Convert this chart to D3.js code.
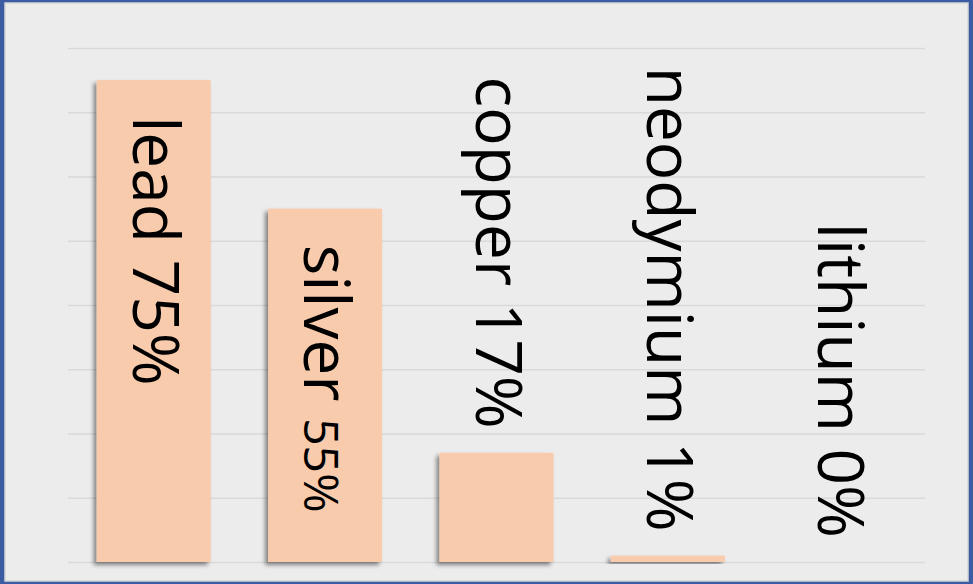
<!DOCTYPE html>
<html>
<head>
<meta charset="utf-8">
<script src="https://cdn.jsdelivr.net/npm/d3@7"></script>
<style>
  html, body { margin: 0; padding: 0; background: #ffffff; }
  svg { display: block; }
  .grid line { stroke: #d9d9d9; stroke-width: 1.5; }
  .lbl { font-family: "Open Sans", "Noto Sans", sans-serif; fill: #000; }
</style>
</head>
<body>
<div id="chart"></div>
<script>
(function() {

// data
const metals = ["lead", "silver", "copper", "neodymium", "lithium"];
const shares = [75, 55, 17, 1, 0];
const pctText = ["75%", "55%", "17%", "1%", "0%"];
const gridTicks = [0, 10, 20, 30, 40, 50, 60, 70, 80];

const W = 973, H = 584;
let plot = {left: 68, right: 925, top: 48, bottom: 562};

let xScale = d3.scaleBand().domain(metals).range([plot.left, plot.right])
    .paddingInner(0.335).paddingOuter(0.1675);
let yScale = d3.scaleLinear().domain([0, 80]).range([plot.bottom, plot.top]);

let svg = d3.select("#chart").append("svg")
    .attr("width", W)
    .attr("height", H);

// drop shadow for the bars
let defs = svg.append("defs");
let f = defs.append("filter").attr("id", "shadow")
    .attr("x", "-20%").attr("y", "-20%").attr("width", "140%").attr("height", "140%");
f.append("feDropShadow")
    .attr("dx", -3).attr("dy", 3)
    .attr("stdDeviation", 2.2)
    .attr("flood-color", "#000")
    .attr("flood-opacity", 0.45);

// frame
svg.append("rect").attr("x", 0).attr("y", 0).attr("width", W).attr("height", H).attr("fill", "#3b5ca3");
svg.append("rect").attr("x", 5).attr("y", 3).attr("width", W - 10).attr("height", H - 6)
    .attr("fill", "#ececec").attr("stroke", "#d6d6d6").attr("stroke-width", 1.5);

// gridlines
svg.append("g")
    .attr("class", "grid")
    .attr("transform", "translate(" + plot.left + ",0)")
    .call(d3.axisLeft(yScale).tickValues(gridTicks).tickSize(-(plot.right - plot.left)).tickFormat(""))
    .call(g => g.select(".domain").remove());

// bars
svg.append("g").selectAll("rect")
    .data(metals)
  .enter().append("rect")
    .attr("x", d => xScale(d))
    .attr("width", xScale.bandwidth())
    .attr("y", (d, i) => yScale(shares[i]))
    .attr("height", (d, i) => yScale(0) - yScale(shares[i]))
    .attr("fill", "#f8cbad")
    .attr("filter", "url(#shadow)");

// rotated labels: inside the tall bars, above the short ones
let labels = svg.append("g").selectAll("text")
    .data(metals)
  .enter().append("text")
    .attr("class", "lbl")
    .attr("font-size", 64)
    .attr("text-anchor", (d, i) => shares[i] > 40 ? "start" : "end")
    .attr("transform", (d, i) => {
        let cx = xScale(d) + xScale.bandwidth() / 2 - 21;
        let y = shares[i] > 40 ? yScale(shares[i]) + 36 : yScale(shares[i]) - 24;
        return "translate(" + cx + "," + y + ") rotate(90)";
    });

labels.append("tspan").text(d => d + " ");
labels.append("tspan")
    .attr("font-size", (d, i) => metals[i] === "silver" ? 48 : 64)
    .text((d, i) => pctText[i]);

})();
</script>
</body>
</html>
